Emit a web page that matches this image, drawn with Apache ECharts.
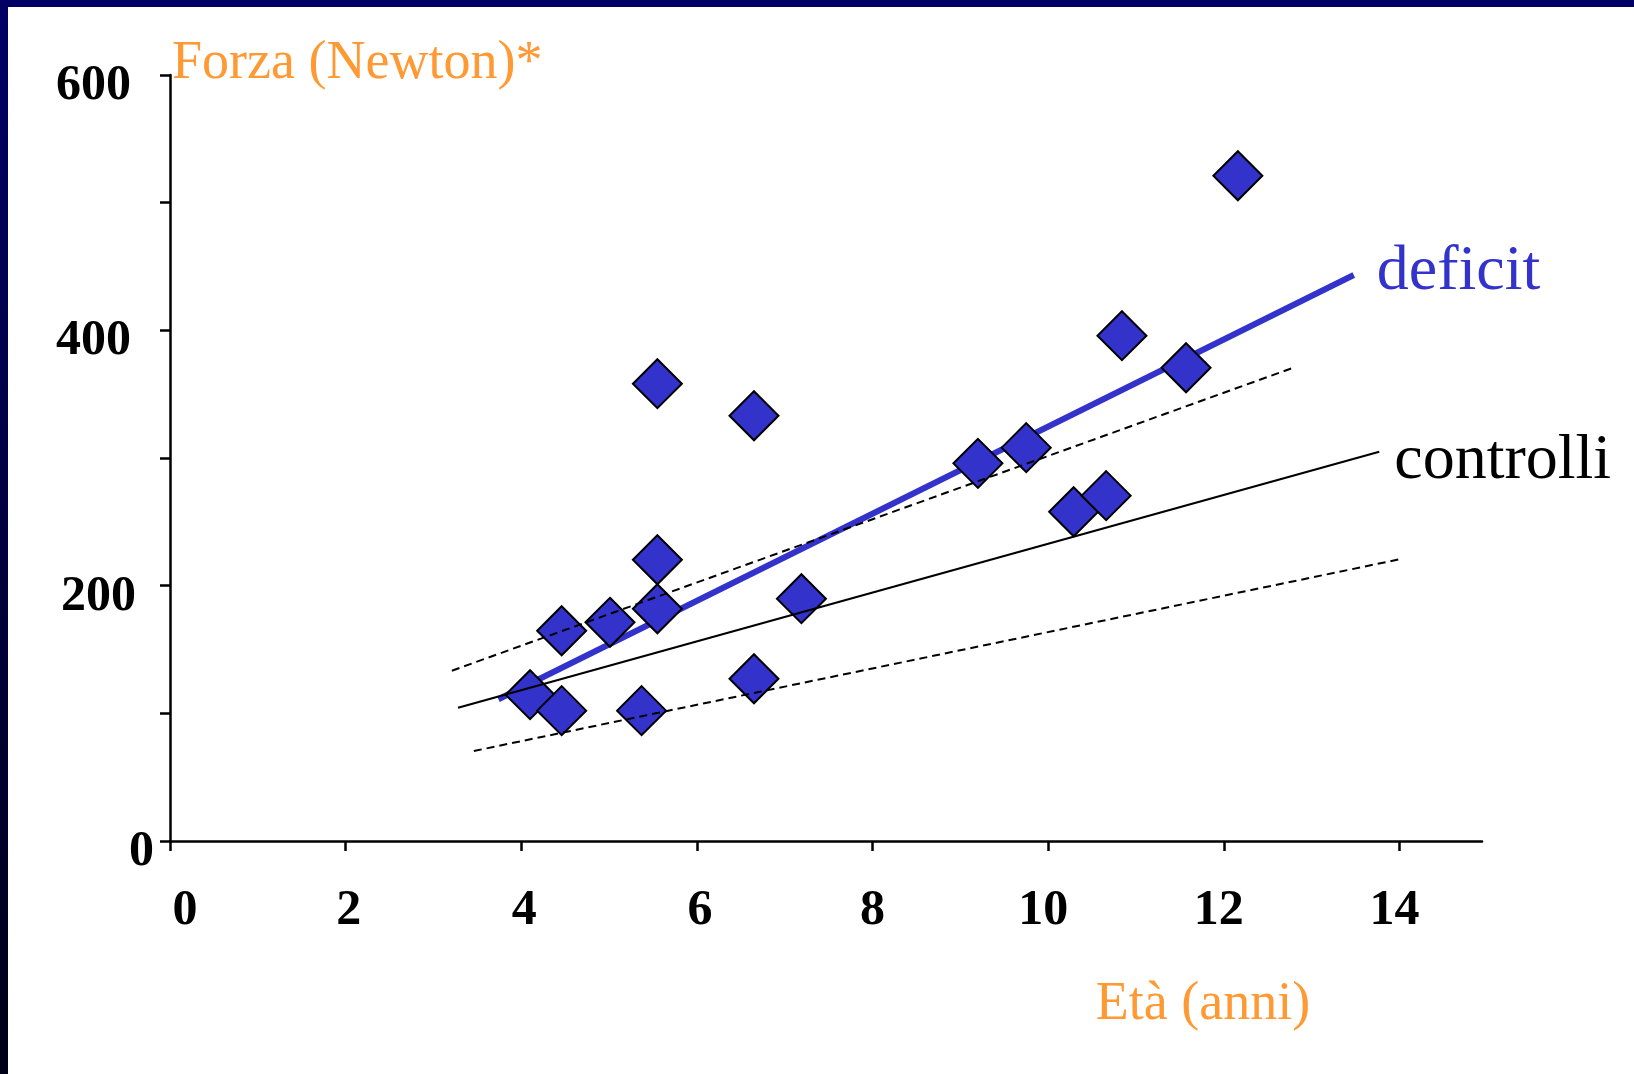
<!DOCTYPE html>
<html>
<head>
<meta charset="utf-8">
<script src="https://cdn.jsdelivr.net/npm/echarts@6/dist/echarts.min.js"></script>
<style>
html,body{margin:0;padding:0;background:#fff;}
#chart{width:1634px;height:1074px;}
</style>
</head>
<body>
<div id="chart"></div>
<script>
// ---- data ----
const xTickValues = [0, 2, 4, 6, 8, 10, 12, 14];
const yTickValues = [0, 100, 200, 300, 400, 500, 600];
const yLabelValues = [0, 200, 400, 600];

// individual subjects (deficit group)
const ages   = [4.10, 4.46, 4.46, 5.01, 5.37, 5.55, 5.55, 5.55, 6.65, 6.65, 7.19, 9.20, 9.75, 10.29, 10.66, 10.84, 11.57, 12.16];
const forces = [114.6, 102.1, 164.7, 171.3, 102.1, 181.9, 220.3, 358.2, 333.1, 127.1, 189.8, 295.8, 308.1, 257.9, 270.5, 395.8, 370.7, 521.1];

// regression line of deficit group (end points)
const deficitLineX = [3.74, 13.48];
const deficitLineY = [111.0, 443.3];
// control group regression line and its band
const controlliLineX = [3.28, 13.77];
const controlliLineY = [104.4, 304.9];
const upperBandX = [3.21, 12.79];
const upperBandY = [133.4, 370.7];
const lowerBandX = [3.46, 14.04];
const lowerBandY = [70.5, 221.2];

const xName = 'Età (anni)';
const yName = 'Forza (Newton)*';
const deficitName = 'deficit';
const controlliName = 'controlli';

// ---- build ----
const SERIF = '"Liberation Serif", "Times New Roman", Times, serif';
const BLUE = '#3333CC';
const ORANGE = '#FF9933';
const zip = (xs, ys) => xs.map((x, i) => [x, ys[i]]);
const scatterData = zip(ages, forces);

const chart = echarts.init(document.getElementById('chart'), null, {renderer: 'canvas'});

function xLabelFmt(v) {
  if (v === 0) return '{p0|' + v + '}';
  if (v === 2 || v === 4 || v === 6) return '{p1|' + v + '}';
  if (v >= 10) return '{p2|' + v + '}';
  return '{p3|' + v + '}';
}
function yLabelFmt(v) {
  if (v === 0) return '{q0|' + v + '}';
  if (v === 200) return '{q1|' + v + '}';
  return '{q2|' + v + '}';
}
const lblFont = {fontFamily: SERIF, fontWeight: 'bold', fontSize: 50, color: '#000'};

const option = {
  animation: false,
  backgroundColor: '#ffffff',
  grid: {left: 170, right: 152, top: 75, bottom: 233, containLabel: false, outerBoundsMode: 'none'},
  xAxis: {
    type: 'value', min: 0, max: 14.94,
    axisLine: {show: true, onZero: true, lineStyle: {color: '#000', width: 2.5}},
    axisTick: {show: true, customValues: xTickValues, length: 10, inside: false, lineStyle: {color: '#000', width: 2.5}},
    axisLabel: {
      show: true, customValues: xTickValues, margin: 45,
      showMinLabel: true, showMaxLabel: true,
      formatter: xLabelFmt,
      ...lblFont,
      rich: {
        p0: {...lblFont, padding: [0, 0, 0, 30]},
        p1: {...lblFont, padding: [0, 0, 0, 6]},
        p2: {...lblFont, padding: [0, 10, 0, 0]},
        p3: {...lblFont}
      }
    },
    splitLine: {show: false}
  },
  yAxis: {
    type: 'value', min: 0, max: 600, interval: 100,
    axisLine: {show: true, lineStyle: {color: '#000', width: 2.5}},
    axisTick: {show: true, customValues: yTickValues, length: 10, inside: false, lineStyle: {color: '#000', width: 2.5}},
    axisLabel: {
      show: true, customValues: yLabelValues, margin: 16,
      formatter: yLabelFmt,
      padding: [22, 0, 0, 0],
      ...lblFont,
      rich: {
        q0: {...lblFont},
        q1: {...lblFont, padding: [0, 18, 0, 0]},
        q2: {...lblFont, padding: [0, 23, 0, 0]}
      }
    },
    splitLine: {show: false}
  },
  series: [
    {
      name: deficitName, type: 'line', z: 1,
      data: zip(deficitLineX, deficitLineY),
      showSymbol: false, symbol: 'none', silent: true,
      lineStyle: {color: BLUE, width: 6},
      endLabel: {
        show: true, formatter: deficitName, color: BLUE,
        fontFamily: SERIF, fontSize: 64, distance: 23, offset: [0, -3],
        align: 'left', verticalAlign: 'middle'
      }
    },
    {
      name: 'soggetti', type: 'scatter', z: 2,
      data: scatterData, symbol: 'diamond', symbolSize: 49,
      itemStyle: {color: BLUE, borderColor: '#000', borderWidth: 2, opacity: 1},
      silent: true
    },
    {
      name: controlliName, type: 'line', z: 3,
      data: zip(controlliLineX, controlliLineY),
      showSymbol: false, symbol: 'none', silent: true,
      lineStyle: {color: '#000', width: 2.2},
      endLabel: {
        show: true, formatter: controlliName, color: '#000',
        fontFamily: SERIF, fontSize: 64, distance: 15, offset: [0, 9],
        align: 'left', verticalAlign: 'middle'
      }
    },
    {
      name: 'upper', type: 'line', z: 3,
      data: zip(upperBandX, upperBandY),
      showSymbol: false, symbol: 'none', silent: true,
      lineStyle: {color: '#000', width: 2, type: [8, 5]}
    },
    {
      name: 'lower', type: 'line', z: 3,
      data: zip(lowerBandX, lowerBandY),
      showSymbol: false, symbol: 'none', silent: true,
      lineStyle: {color: '#000', width: 2, type: [8, 5]}
    }
  ],
  graphic: [
    {
      type: 'rect', left: 0, top: 0, z: 100, silent: true,
      shape: {width: 1634, height: 7},
      style: {fill: '#000066'}
    },
    {
      type: 'rect', left: 0, top: 0, z: 100, silent: true,
      shape: {width: 8, height: 1074},
      style: {fill: new echarts.graphic.LinearGradient(0, 0, 0, 1, [
        {offset: 0, color: '#000066'},
        {offset: 1, color: '#000018'}
      ])}
    },
    {
      type: 'text', x: 172, y: 64, z: 50, silent: true,
      style: {text: yName, fill: ORANGE, fontFamily: SERIF, fontSize: 54, align: 'left', verticalAlign: 'middle'}
    },
    {
      type: 'text', x: 1203, y: 1005, z: 50, silent: true,
      style: {text: xName, fill: ORANGE, fontFamily: SERIF, fontSize: 54, align: 'center', verticalAlign: 'middle'}
    }
  ]
};
chart.setOption(option);
</script>
</body>
</html>
